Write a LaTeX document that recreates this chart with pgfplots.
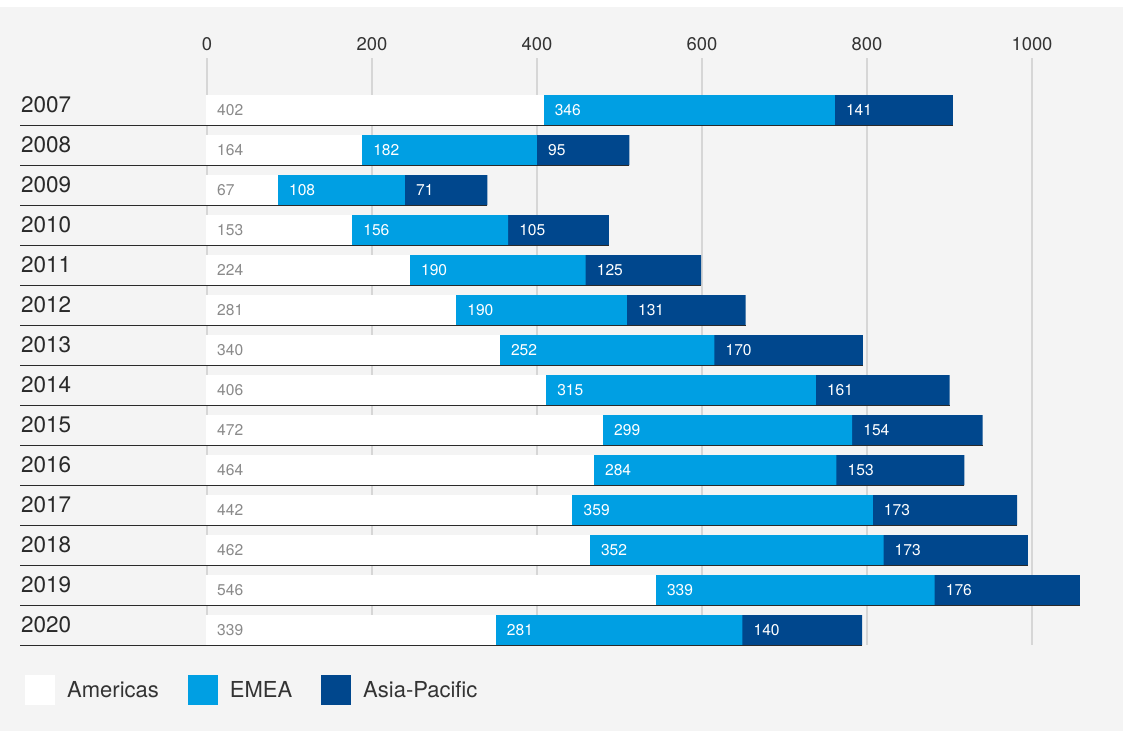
\documentclass[border=0pt]{standalone}
\usepackage{fontspec}
\setmainfont{TeX Gyre Heros}
\usepackage{pgfplots}
\usepackage{pgfplotstable}
\pgfplotsset{compat=1.18}

\definecolor{bgc}{HTML}{F4F4F4}
\definecolor{gridc}{HTML}{D6D6D6}
\definecolor{emea}{HTML}{009FE3}
\definecolor{apac}{HTML}{00478D}
\definecolor{linec}{HTML}{2A2A2A}
\definecolor{txt}{HTML}{333333}
\definecolor{lblgray}{HTML}{8A8A8A}

% bar lengths as drawn (a,e,p) and the printed numbers (la,le,lp)
\pgfplotstableread{
row a   e   p   la  le  lp
0   408 353 143 402 346 141
1   188 212 112 164 182 95
2   86  154 100 67  108 71
3   176 189 122 153 156 105
4   246 213 140 224 190 125
5   302 207 144 281 190 131
6   355 260 180 340 252 170
7   411 327 162 406 315 161
8   480 302 158 472 299 154
9   469 294 155 464 284 153
10  443 364 175 442 359 173
11  464 356 175 462 352 173
12  544 338 176 546 339 176
13  350 299 145 339 281 140
}\data

\begin{document}
\begin{tikzpicture}
% page background (1pt = 1px of the reference)
\fill[white] (0,-86pt) rectangle (1123pt,645pt);
\fill[bgc] (0,-86pt) rectangle (1123pt,638pt);
\begin{axis}[
    at={(0,0)}, anchor=south west,
    scale only axis,
    width=1123pt, height=587pt,
    xmin=-250.9, xmax=1110.3,
    ymin=-1.3, ymax=13.375,
    y dir=reverse,
    clip=false,
    axis line style={draw=none},
    major tick length=0pt,
    xtick={0,200,...,1000},
    xticklabel pos=upper,
    xmajorgrids,
    grid style={gridc, line width=1.2pt},
    /pgf/number format/assume math mode=true,
    /pgf/number format/1000 sep={},
    xticklabel style={font=\fontsize{18.4}{22}\selectfont, text=txt, anchor=south, inner sep=0pt, yshift=7pt},
    ytick={0,...,13},
    yticklabels={2007,2008,2009,2010,2011,2012,2013,2014,2015,2016,2017,2018,2019,2020},
    yticklabel style={font=\fontsize{22.5}{26}\selectfont, text=linec, anchor=west, inner sep=0pt, xshift=21pt, yshift=5pt},
    legend image code/.code={\fill[#1, draw=none] (0pt,-15pt) rectangle (30pt,15pt);},
    legend columns=3,
    legend style={at={(0.02226,-0.0767)}, anchor=west, draw=none, fill=none,
        inner sep=0pt, font=\fontsize{22}{26}\selectfont, text=txt,
        nodes={inner sep=0pt},
        /tikz/every odd column/.append style={column sep=12pt},
        /tikz/every even column/.append style={column sep=29pt}},
  ]
  \addlegendimage{fill=white, draw=none}
  \addlegendentry{Americas}
  \addlegendimage{fill=emea, draw=none}
  \addlegendentry{EMEA}
  \addlegendimage{fill=apac, draw=none}
  \addlegendentry{Asia-Pacific}

  % bars drawn back to front: whole row, then Americas+EMEA, then Americas
  \addplot[forget plot, xbar, bar width=30pt, bar shift=0pt, fill=apac, draw=none]
    table[x expr=\thisrow{a}+\thisrow{e}+\thisrow{p}, y=row] {\data};
  \addplot[forget plot, xbar, bar width=30pt, bar shift=0pt, fill=emea, draw=none]
    table[x expr=\thisrow{a}+\thisrow{e}, y=row] {\data};
  \addplot[forget plot, xbar, bar width=28pt, bar shift=0pt, fill=white, draw=white, line width=2pt]
    table[x expr=\thisrow{a}-1.2, y=row] {\data};

  % row underlines from the year label to the end of the bar
  \addplot[forget plot, draw=none, mark=none,
    error bars/.cd, x dir=minus, x explicit, error mark=none,
    error bar style={line width=1.3pt, draw=linec}]
    table[x expr=\thisrow{a}+\thisrow{e}+\thisrow{p}, y expr=\thisrow{row}+0.3875,
          x error expr=\thisrow{a}+\thisrow{e}+\thisrow{p}+226.7] {\data};

  % value labels at the start of each segment
  \addplot[forget plot, draw=none, mark=none, nodes near coords, point meta=explicit symbolic,
    every node near coord/.append style={anchor=west, xshift=10pt, inner sep=0pt,
      font=\fontsize{15.6}{18}\selectfont, text=lblgray}]
    table[x expr=0, y=row, meta=la] {\data};
  \addplot[forget plot, draw=none, mark=none, nodes near coords, point meta=explicit symbolic,
    every node near coord/.append style={anchor=west, xshift=11pt, inner sep=0pt,
      font=\fontsize{15.6}{18}\selectfont, text=white}]
    table[x=a, y=row, meta=le] {\data};
  \addplot[forget plot, draw=none, mark=none, nodes near coords, point meta=explicit symbolic,
    every node near coord/.append style={anchor=west, xshift=11pt, inner sep=0pt,
      font=\fontsize{15.6}{18}\selectfont, text=white}]
    table[x expr=\thisrow{a}+\thisrow{e}, y=row, meta=lp] {\data};
\end{axis}
\pgfresetboundingbox
\path (0,-86pt) rectangle (1123pt,645pt);
\end{tikzpicture}
\end{document}
